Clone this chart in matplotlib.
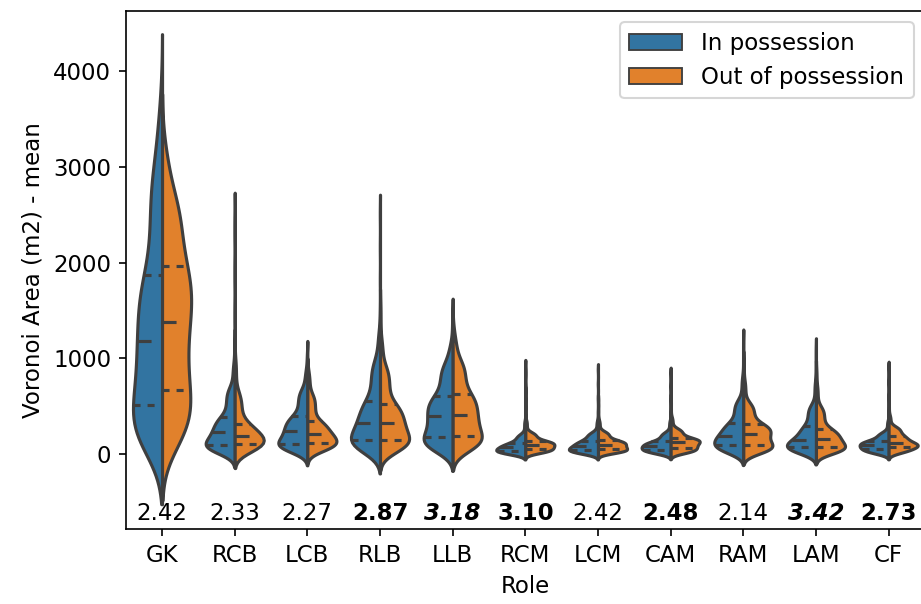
import numpy as np
import pandas as pd
import matplotlib
matplotlib.use("Agg")
import matplotlib.pyplot as plt
import seaborn as sns

# ---- data (quantiles per role / possession state) ----
roles = ["GK", "RCB", "LCB", "RLB", "LLB", "RCM", "LCM", "CAM", "RAM", "LAM", "CF"]
hue_levels = ["In possession", "Out of possession"]
quantile_levels = [0.0, 0.05, 0.25, 0.50, 0.75, 0.95, 0.99, 1.0]

in_possession_q = [
    [30, 120, 514, 1179, 1876, 3000, 3500, 3880],   # GK
    [0, 40, 96, 228, 389, 700, 950, 1200],          # RCB
    [10, 50, 110, 245, 395, 680, 880, 1080],        # LCB
    [0, 60, 144, 326, 559, 980, 1300, 2680],        # RLB
    [0, 60, 176, 395, 604, 950, 1150, 1490],        # LLB
    [0, 10, 30, 70, 115, 210, 360, 1010],           # RCM
    [0, 15, 40, 85, 140, 230, 360, 960],            # LCM
    [0, 15, 47, 89, 134, 230, 360, 920],            # CAM
    [0, 30, 99, 193, 326, 570, 820, 1240],          # RAM
    [0, 25, 75, 152, 291, 520, 770, 1150],          # LAM
    [0, 15, 54, 99, 141, 230, 360, 990],            # CF
]
out_possession_q = [
    [0, 200, 667, 1377, 1970, 2700, 3100, 3300],    # GK
    [10, 50, 110, 193, 319, 650, 1000, 2800],       # RCB
    [15, 55, 117, 211, 343, 630, 820, 900],         # LCB
    [5, 60, 151, 326, 524, 920, 1200, 1600],        # RLB
    [10, 70, 193, 406, 632, 980, 1200, 1350],       # LLB
    [5, 20, 55, 100, 140, 230, 360, 700],           # RCM
    [5, 20, 50, 100, 145, 240, 360, 600],           # LCM
    [5, 20, 65, 123, 169, 270, 390, 600],           # CAM
    [0, 30, 92, 214, 315, 540, 770, 1000],          # RAM
    [0, 25, 71, 162, 266, 500, 720, 900],           # LAM
    [5, 25, 75, 117, 193, 290, 410, 600],           # CF
]
score_labels = ["2.42", "2.33", "2.27", "2.87", "3.18", "3.10", "2.42", "2.48", "2.14", "3.42", "2.73"]
score_bold = [False, False, False, True, True, True, False, True, False, True, True]
score_italic = [False, False, False, False, True, False, False, False, False, True, False]

# ---- expand quantiles into observations (inverse CDF) ----
n_obs = 400
probs = (np.arange(n_obs) + 0.5) / n_obs
rows = []
for role, qa, qb in zip(roles, in_possession_q, out_possession_q):
    for hue, q in zip(hue_levels, (qa, qb)):
        vals = np.interp(probs, quantile_levels, q)
        rows.append(pd.DataFrame({"Role": role, "Possession": hue, "value": vals}))
df = pd.concat(rows, ignore_index=True)

plt.rcParams["font.size"] = 11
fig = plt.figure(figsize=(921 / 150, 604 / 150), dpi=150)
ax = fig.add_axes([0.1365, 0.1237, 0.8678, 0.8581])

n_lines_before = len(ax.lines)
kw = dict(data=df, x="Role", y="value", hue="Possession", order=roles,
          hue_order=hue_levels, split=True, inner="quart", linewidth=1.5, ax=ax)
try:
    sns.violinplot(density_norm="width", **kw)
except TypeError:
    sns.violinplot(scale="width", **kw)

# style quartile lines like classic seaborn: thick, q25/q75 short dashes, median long dashes
hlines = [ln for ln in ax.lines[n_lines_before:]
          if len(ln.get_ydata()) == 2 and np.isclose(ln.get_ydata()[0], ln.get_ydata()[1])]
for i, ln in enumerate(hlines):
    ln.set_linewidth(1.5)
    ln.set_color("#3f3f3f")
    if i % 3 == 1:
        ln.set_dashes([4.5, 4.5])
    else:
        ln.set_dashes([2.25, 2.25])

ax.set_ylim(-785, 4630)
ax.set_xlim(-0.5, len(roles) - 0.5)
ax.set_xlabel("Role")
ax.set_ylabel("Voronoi Area (m2) - mean")

for i, (lab, b, it) in enumerate(zip(score_labels, score_bold, score_italic)):
    ax.text(i, -690, lab, ha="center", va="baseline", fontsize=11,
            fontweight="bold" if b else "normal",
            fontstyle="italic" if it else "normal")

handles, labels = ax.get_legend_handles_labels()
for h in handles:
    try:
        h.set_linewidth(0.9)
    except Exception:
        pass
ax.legend(handles, labels, loc="upper right", handlelength=2.3, handletextpad=0.85)

fig.savefig("out.png", dpi=150)
